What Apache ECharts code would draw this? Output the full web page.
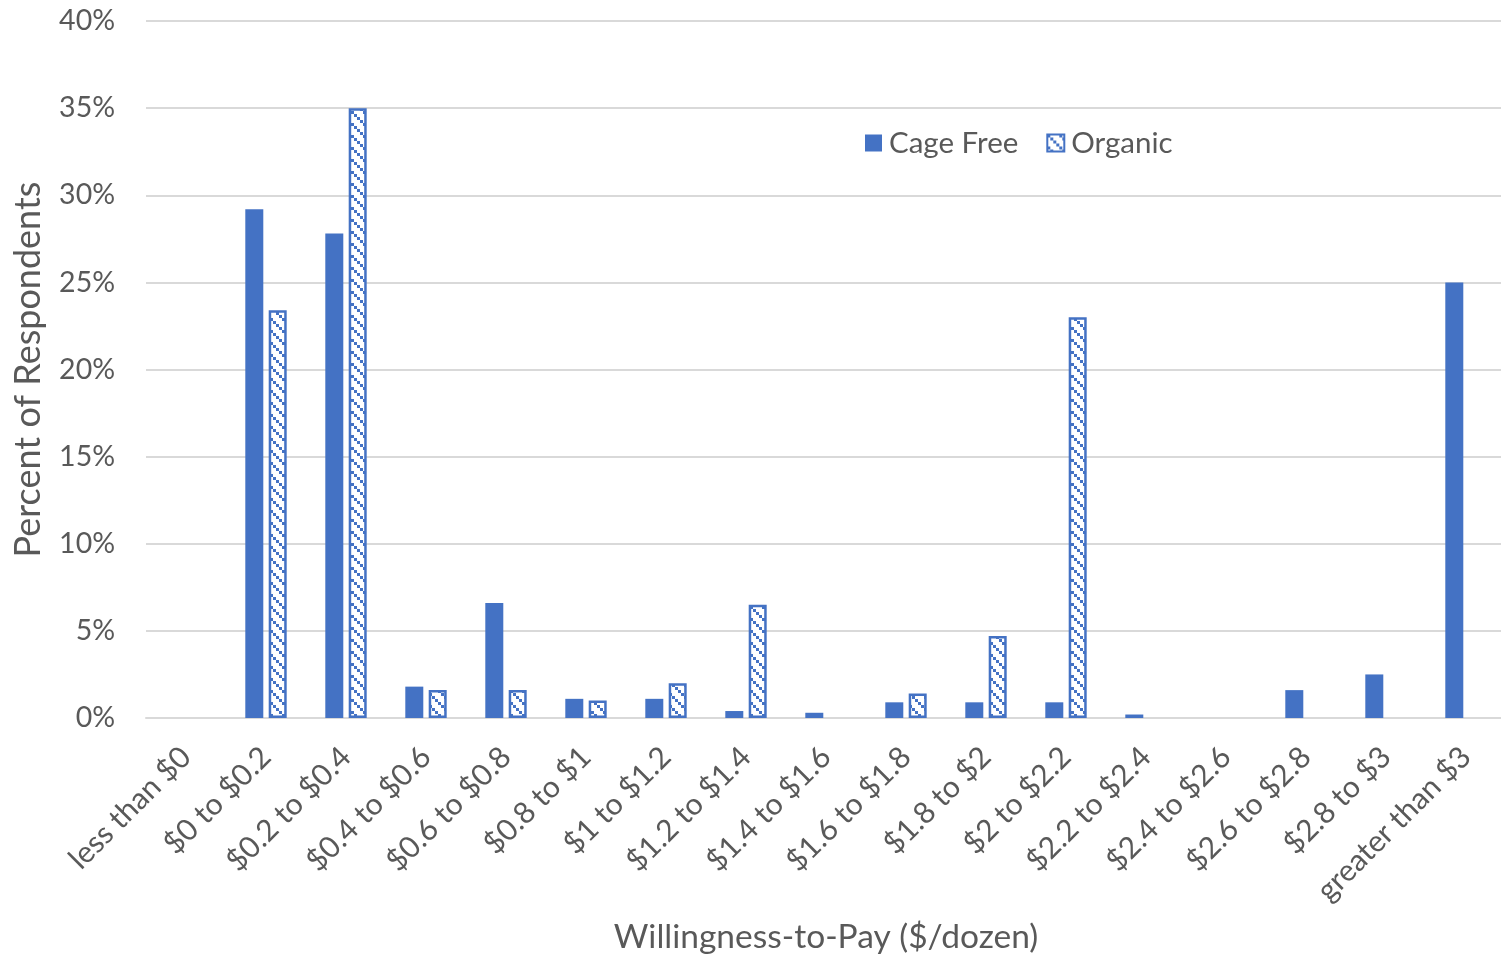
<!DOCTYPE html>
<html>
<head>
<meta charset="utf-8">
<script src="https://cdn.jsdelivr.net/npm/echarts@6/dist/echarts.min.js"></script>
<style>
  html, body { margin: 0; padding: 0; background: #fff; }
  #chart { width: 1501px; height: 960px; }
</style>
</head>
<body>
<div id="chart"></div>
<script>
// Price-premium brackets for a dozen eggs
const categories = [
  'less than $0', '$0 to $0.2', '$0.2 to $0.4', '$0.4 to $0.6', '$0.6 to $0.8',
  '$0.8 to $1', '$1 to $1.2', '$1.2 to $1.4', '$1.4 to $1.6', '$1.6 to $1.8',
  '$1.8 to $2', '$2 to $2.2', '$2.2 to $2.4', '$2.4 to $2.6', '$2.6 to $2.8',
  '$2.8 to $3', 'greater than $3'
];

// Share of respondents (%) in each bracket
const cageFree = [0, 29.2, 27.8, 1.8, 6.6, 1.1, 1.1, 0.4, 0.3, 0.9, 0.9, 0.9, 0.2, 0, 1.6, 2.5, 25.0];
const organic  = [0, 23.4, 35.0, 1.6, 1.6, 1.0, 2.0, 6.5, 0, 1.4, 4.7, 23.0, 0, 0, 0, 0, 0];

const seriesNames = ['Cage Free', 'Organic'];
const yTicks = [0, 5, 10, 15, 20, 25, 30, 35, 40];

const BLUE = '#4472C4';
const TEXT = '#595959';
const FONT = 'Lato, "Open Sans", sans-serif';

// Empty brackets get no bar at all (a zero-height bar would still show its outline)
const asBars = arr => arr.map(v => (v === 0 ? null : v));

// Staircase diagonal of small squares used as the fill of the Organic bars
function makeHatch() {
  const c = document.createElement('canvas');
  c.width = 12; c.height = 12;
  const g = c.getContext('2d');
  g.fillStyle = '#ffffff';
  g.fillRect(0, 0, 12, 12);
  g.fillStyle = BLUE;
  for (let i = 0; i < 4; i++) g.fillRect(i * 3, i * 3, 3, 3);
  return c;
}

const chart = echarts.init(document.getElementById('chart'), null, { renderer: 'canvas' });

chart.setOption({
  animation: false,
  textStyle: { fontFamily: FONT, color: TEXT },
  grid: {
    left: 146, right: -5, top: 21, bottom: 242,
    containLabel: false,
    outerBoundsMode: 'none'
  },
  legend: {
    data: seriesNames,
    left: 860,
    top: 123,
    icon: 'rect',
    itemWidth: 17,
    itemHeight: 17,
    itemGap: 28,
    textStyle: { fontFamily: FONT, fontSize: 29.5, color: TEXT, padding: [0, 0, 0, 2] }
  },
  xAxis: {
    type: 'category',
    data: categories,
    axisLine: { show: true, lineStyle: { color: '#d9d9d9', width: 2 } },
    axisTick: { show: false },
    axisLabel: {
      interval: 0,
      rotate: 45,
      margin: 34,
      fontSize: 30,
      color: TEXT,
      fontFamily: FONT
    },
    name: 'Willingness-to-Pay ($/dozen)',
    nameLocation: 'middle',
    nameGap: 202,
    nameTextStyle: { fontSize: 33.5, color: TEXT, fontFamily: FONT }
  },
  yAxis: {
    type: 'value',
    min: yTicks[0],
    max: yTicks[yTicks.length - 1],
    interval: 5,
    axisLine: { show: false },
    axisTick: { show: false },
    splitLine: { lineStyle: { color: '#d9d9d9', width: 2 } },
    axisLabel: {
      formatter: v => v + '%',
      fontSize: 28.5,
      margin: 31,
      color: TEXT,
      fontFamily: FONT
    },
    name: 'Percent of Respondents',
    nameLocation: 'middle',
    nameGap: 100,
    nameTextStyle: { fontSize: 36, color: TEXT, fontFamily: FONT }
  },
  series: [
    {
      name: seriesNames[0],
      type: 'bar',
      data: asBars(cageFree),
      barWidth: 18,
      barGap: '30%',
      itemStyle: { color: BLUE }
    },
    {
      name: seriesNames[1],
      type: 'bar',
      data: asBars(organic),
      barWidth: 18,
      barGap: '30%',
      itemStyle: {
        color: { image: makeHatch(), repeat: 'repeat' },
        borderColor: BLUE,
        borderWidth: 2.5
      }
    }
  ]
});
</script>
</body>
</html>
